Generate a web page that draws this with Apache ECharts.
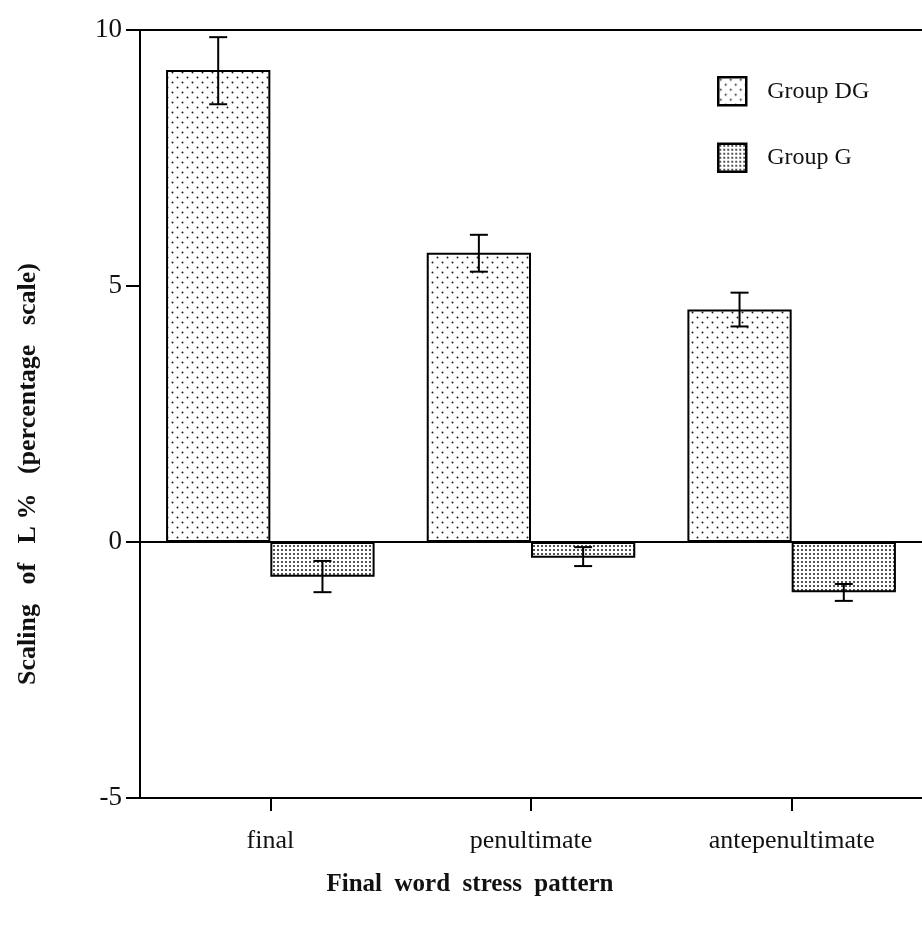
<!DOCTYPE html>
<html>
<head>
<meta charset="utf-8">
<script src="https://cdn.jsdelivr.net/npm/echarts@6/dist/echarts.min.js"></script>
<style>
html,body{margin:0;padding:0;background:#fff;}
#chart{width:922px;height:927px;}
</style>
</head>
<body>
<div id="chart"></div>
<script>
// ---- data ----
const categories = ['final', 'penultimate', 'antepenultimate'];
const seriesNames = ['Group DG', 'Group G'];
const dgMean = [9.22, 5.65, 4.54];
const dgLow  = [8.55, 5.28, 4.21];
const dgHigh = [9.86, 6.00, 4.87];
const gMean  = [-0.68, -0.31, -0.98];
const gLow   = [-0.98, -0.47, -1.15];
const gHigh  = [-0.37, -0.10, -0.82];
const yTicks = [-5, 0, 5, 10];

// ---- patterns ----
function makePattern(size, dots, r) {
  const c = document.createElement('canvas');
  c.width = size; c.height = size;
  const ctx = c.getContext('2d');
  ctx.fillStyle = '#ffffff';
  ctx.fillRect(0, 0, size, size);
  ctx.fillStyle = '#1a1a1a';
  dots.forEach(d => { ctx.beginPath(); ctx.arc(d[0], d[1], r, 0, Math.PI * 2); ctx.fill(); });
  return { image: c, repeat: 'repeat' };
}
const patDG = makePattern(10, [[2.5, 2.5], [7.5, 7.5]], 0.95);
const patG = makePattern(8, [[2, 2], [6, 2], [2, 6], [6, 6]], 1.0);

const serif = '"Liberation Serif", "Times New Roman", serif';

function errRender(offsetSign) {
  return function (params, api) {
    const idx = api.value(0);
    const lo = api.coord([idx, api.value(1)]);
    const hi = api.coord([idx, api.value(2)]);
    const bandW = api.size([1, 0])[0];
    const barW = bandW * 0.4;
    const x = lo[0] + offsetSign * barW / 2;
    const cap = 9;
    const st = { stroke: '#000', lineWidth: 2, fill: null };
    return {
      type: 'group',
      children: [
        { type: 'line', shape: { x1: x, y1: lo[1], x2: x, y2: hi[1] }, style: st },
        { type: 'line', shape: { x1: x - cap, y1: lo[1], x2: x + cap, y2: lo[1] }, style: st },
        { type: 'line', shape: { x1: x - cap, y1: hi[1], x2: x + cap, y2: hi[1] }, style: st }
      ]
    };
  };
}

const chart = echarts.init(document.getElementById('chart'), null, { renderer: 'canvas' });
chart.setOption({
  backgroundColor: '#ffffff',
  animation: false,
  grid: { left: 140, right: -5, top: 30, bottom: 129, containLabel: false },
  legend: {
    data: seriesNames,
    orient: 'vertical',
    left: 712, top: 71,
    icon: 'rect',
    itemWidth: 28, itemHeight: 28, itemGap: 36,
    itemStyle: { borderColor: '#000', borderWidth: 2.5 },
    textStyle: { fontFamily: serif, fontSize: 24, color: '#111', padding: [0, 0, 0, 16] },
    selectedMode: false
  },
  xAxis: [{
    type: 'category',
    data: categories,
    position: 'bottom',
    axisLine: { onZero: false, lineStyle: { color: '#000', width: 2 } },
    axisTick: { show: true, alignWithLabel: true, length: 13, lineStyle: { color: '#000', width: 2 } },
    axisLabel: { fontFamily: serif, fontSize: 26, color: '#111', margin: 30 }
  }, {
    type: 'category',
    data: categories,
    position: 'top',
    axisLine: { onZero: false, lineStyle: { color: '#000', width: 2 } },
    axisTick: { show: false },
    axisLabel: { show: false }
  }],
  yAxis: {
    type: 'value',
    min: -5, max: 10, interval: 5,
    axisLine: { show: true, onZero: false, lineStyle: { color: '#000', width: 2 } },
    axisTick: { show: true, length: 14, lineStyle: { color: '#000', width: 2 } },
    axisLabel: {
      fontFamily: serif, fontSize: 27, color: '#111', margin: 18,
      formatter: v => (yTicks.indexOf(v) >= 0 ? String(v) : '')
    },
    splitLine: { show: false }
  },
  graphic: [
    {
      type: 'text',
      x: 28, y: 474,
      rotation: Math.PI / 2,
      style: {
        text: 'Scaling   of   L %   (percentage   scale)',
        font: 'bold 26px "Liberation Serif", serif',
        fill: '#111', align: 'center', verticalAlign: 'middle'
      }
    },
    {
      type: 'text',
      x: 470, y: 885,
      style: {
        text: 'Final  word  stress  pattern',
        font: 'bold 25px "Liberation Serif", serif',
        fill: '#111', align: 'center', verticalAlign: 'middle'
      }
    }
  ],
  series: [
    {
      name: seriesNames[0], type: 'bar', data: dgMean,
      barGap: '0%', barCategoryGap: '20%',
      itemStyle: { color: patDG, borderColor: '#000', borderWidth: 2 },
      markLine: {
        silent: true, symbol: 'none', label: { show: false },
        lineStyle: { color: '#000', width: 2, type: 'solid' },
        data: [{ yAxis: 0 }]
      }
    },
    {
      name: seriesNames[1], type: 'bar', data: gMean,
      barGap: '0%', barCategoryGap: '20%',
      itemStyle: { color: patG, borderColor: '#000', borderWidth: 2 }
    },
    {
      name: 'errDG', type: 'custom', z: 5,
      renderItem: errRender(-1),
      encode: { x: 0, y: [1, 2] },
      data: categories.map((c, i) => [i, dgLow[i], dgHigh[i]])
    },
    {
      name: 'errG', type: 'custom', z: 5,
      renderItem: errRender(1),
      encode: { x: 0, y: [1, 2] },
      data: categories.map((c, i) => [i, gLow[i], gHigh[i]])
    }
  ]
});
</script>
</body>
</html>
